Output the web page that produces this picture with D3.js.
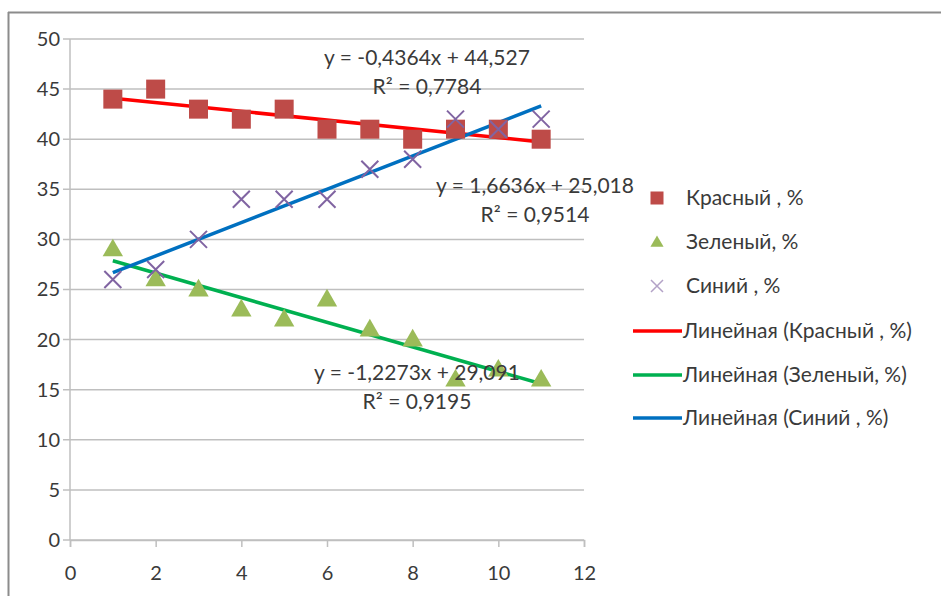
<!DOCTYPE html>
<html>
<head>
<meta charset="utf-8">
<script src="https://cdn.jsdelivr.net/npm/d3@7"></script>
<style>
  body { margin: 0; background: #fff; }
  svg text { font-family: Lato, "Open Sans", sans-serif; fill: #3a3a3a; }
</style>
</head>
<body>
<div id="chart"></div>
<script>
const xValues = [1, 2, 3, 4, 5, 6, 7, 8, 9, 10, 11];
const redValues = [44, 45, 43, 42, 43, 41, 41, 40, 41, 41, 40];
const greenValues = [29, 26, 25, 23, 22, 24, 21, 20, 16, 17, 16];
const blueValues = [26, 27, 30, 34, 34, 34, 37, 38, 42, 41, 42];

// trendline coefficients as printed on the chart
const trendSlopes = [-0.4364, -1.2273, 1.6636];
const trendIntercepts = [44.527, 29.091, 25.018];
const trendEquations = ["y = -0,4364x + 44,527", "y = -1,2273x + 29,091", "y = 1,6636x + 25,018"];
const trendR2 = ["R² = 0,7784", "R² = 0,9195", "R² = 0,9514"];

const xTicks = [0, 2, 4, 6, 8, 10, 12];
const yTicks = [0, 5, 10, 15, 20, 25, 30, 35, 40, 45, 50];

const seriesNames = ["Красный , %", "Зеленый, %", "Синий , %"];
const trendNames = ["Линейная (Красный , %)", "Линейная (Зеленый, %)", "Линейная (Синий , %)"];

const WIDTH = 941;
const HEIGHT = 596;
const PLOT = { left: 70, right: 584, top: 39, bottom: 540 };
const FONT = 21;

const svg = d3.select("#chart")
  .append("svg")
  .attr("width", WIDTH)
  .attr("height", HEIGHT);

// outer frame (only top and left edges show)
svg.append("line")
  .attr("x1", 8).attr("x2", WIDTH).attr("y1", 12.5).attr("y2", 12.5)
  .attr("stroke", "#8c8c8c").attr("stroke-width", 2);
svg.append("line")
  .attr("x1", 8.5).attr("x2", 8.5).attr("y1", 12).attr("y2", HEIGHT)
  .attr("stroke", "#8c8c8c").attr("stroke-width", 2);

const x = d3.scaleLinear().domain([0, 12]).range([PLOT.left, PLOT.right]);
const y = d3.scaleLinear().domain([0, 50]).range([PLOT.bottom, PLOT.top]);

// —— grid + axes ——
svg.append("g")
  .selectAll("line")
  .data(yTicks)
  .join("line")
  .attr("x1", PLOT.left - 7)
  .attr("x2", PLOT.right)
  .attr("y1", (d) => y(d))
  .attr("y2", (d) => y(d))
  .attr("stroke", "#bfbfbf")
  .attr("stroke-width", 1.5);

svg.append("line")
  .attr("x1", PLOT.left).attr("x2", PLOT.left)
  .attr("y1", PLOT.top).attr("y2", PLOT.bottom)
  .attr("stroke", "#bfbfbf").attr("stroke-width", 1.5);

const yAxis = svg.append("g")
  .attr("transform", `translate(${PLOT.left},0)`)
  .call(d3.axisLeft(y).tickValues(yTicks).tickSize(0).tickPadding(10));

const xAxis = svg.append("g")
  .attr("transform", `translate(0,${PLOT.bottom})`)
  .call(d3.axisBottom(x).tickValues(xTicks).tickSize(7).tickPadding(19));

[xAxis, yAxis].forEach((ax) => {
  ax.select(".domain").attr("stroke", "#bfbfbf").attr("stroke-width", 1.5);
  ax.selectAll(".tick line").attr("stroke", "#bfbfbf").attr("stroke-width", 1.5);
  ax.selectAll(".tick text")
    .attr("font-family", "Lato, sans-serif")
    .attr("font-size", 20)
    .attr("fill", "#3a3a3a");
});
yAxis.select(".domain").remove();

// —— trendlines ——
const trendColors = ["#ff0000", "#00b050", "#0070c0"];
const trendData = trendSlopes.map((m, i) => ({
  m, b: trendIntercepts[i], color: trendColors[i],
}));

svg.append("g")
  .selectAll("line")
  .data(trendData)
  .join("line")
  .attr("x1", x(xValues[0]))
  .attr("x2", x(xValues[xValues.length - 1]))
  .attr("y1", (d) => y(d.m * xValues[0] + d.b))
  .attr("y2", (d) => y(d.m * xValues[xValues.length - 1] + d.b))
  .attr("stroke", (d) => d.color)
  .attr("stroke-width", 3.5);

// —— markers ——
const red = xValues.map((v, i) => [v, redValues[i]]);
const green = xValues.map((v, i) => [v, greenValues[i]]);
const blue = xValues.map((v, i) => [v, blueValues[i]]);

svg.append("g")
  .selectAll("path")
  .data(green)
  .join("path")
  .attr("transform", (d) => `translate(${x(d[0])},${y(d[1]) + 1})`)
  .attr("d", d3.symbol(d3.symbolTriangle, 180))
  .attr("fill", "#9bbb59");

svg.append("g")
  .selectAll("rect")
  .data(red)
  .join("rect")
  .attr("x", (d) => x(d[0]) - 9.5)
  .attr("y", (d) => y(d[1]) - 9.5)
  .attr("width", 19)
  .attr("height", 19)
  .attr("fill", "#be4b48");

const crossPath = (r) => `M${-r},${-r}L${r},${r}M${-r},${r}L${r},${-r}`;

svg.append("g")
  .selectAll("path")
  .data(blue)
  .join("path")
  .attr("transform", (d) => `translate(${x(d[0])},${y(d[1])})`)
  .attr("d", crossPath(8.5))
  .attr("stroke", "#8064a2")
  .attr("stroke-width", 2)
  .attr("fill", "none");

// —— trendline labels ——
const labelPos = [
  { x: 427, y: 65 },
  { x: 417, y: 380 },
  { x: 535, y: 193 },
];

const labels = svg.append("g")
  .selectAll("g")
  .data(trendEquations)
  .join("g")
  .attr("transform", (_, i) => `translate(${labelPos[i].x},${labelPos[i].y})`);

labels.append("text")
  .attr("text-anchor", "middle")
  .attr("font-size", FONT)
  .text((d) => d);

labels.append("text")
  .attr("text-anchor", "middle")
  .attr("font-size", FONT)
  .attr("y", 29)
  .text((_, i) => trendR2[i]);

// —— legend ——
const legend = svg.append("g");
const legendY = [198, 242, 286, 331, 375, 418];

const markerItems = legend.selectAll(".mk")
  .data(seriesNames)
  .join("g")
  .attr("class", "mk")
  .attr("transform", (_, i) => `translate(657,${legendY[i]})`);

markerItems.filter((_, i) => i === 0)
  .append("rect")
  .attr("x", -6.5).attr("y", -6.5).attr("width", 13).attr("height", 13)
  .attr("fill", "#be4b48");
markerItems.filter((_, i) => i === 1)
  .append("path")
  .attr("transform", "translate(0,1)")
  .attr("d", d3.symbol(d3.symbolTriangle, 75))
  .attr("fill", "#9bbb59");
markerItems.filter((_, i) => i === 2)
  .append("path")
  .attr("d", crossPath(6))
  .attr("stroke", "#b3a2c7")
  .attr("stroke-width", 1.5)
  .attr("fill", "none");

markerItems.append("text")
  .attr("x", 29)
  .attr("dy", "0.35em")
  .attr("font-size", FONT)
  .text((d) => d);

const lineItems = legend.selectAll(".ln")
  .data(trendNames)
  .join("g")
  .attr("class", "ln")
  .attr("transform", (_, i) => `translate(633,${legendY[i + 3]})`);

lineItems.append("line")
  .attr("x1", 0).attr("x2", 49)
  .attr("stroke", (_, i) => trendColors[i])
  .attr("stroke-width", 3.5);

lineItems.append("text")
  .attr("x", 50)
  .attr("dy", "0.35em")
  .attr("font-size", FONT)
  .text((d) => d);
</script>
</body>
</html>
